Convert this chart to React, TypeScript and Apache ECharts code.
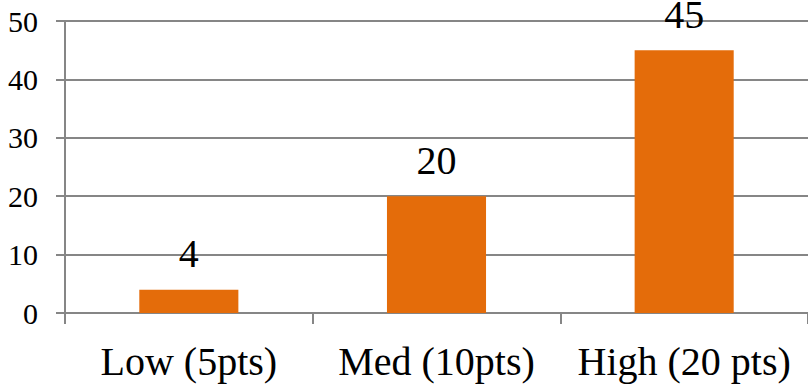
import React, { useEffect, useRef } from "react";
import * as echarts from "echarts";

const categories = ["Low (5pts)", "Med (10pts)", "High (20 pts)"];
const values = [4, 20, 45];
const yTicks = { min: 0, max: 50, interval: 10 };

export default function App() {
  const ref = useRef<HTMLDivElement>(null);
  useEffect(() => {
    const chart = echarts.init(ref.current!, null, { renderer: "svg" });
    const font = "'Liberation Serif', 'DejaVu Serif', serif";
    chart.setOption({
      animation: false,
      grid: { left: 65, right: -4, top: 21, bottom: 77, containLabel: false },
      xAxis: {
        type: "category",
        data: categories,
        axisLine: { show: true, lineStyle: { color: "#868686", width: 2 } },
        axisTick: { show: true, length: 11, lineStyle: { color: "#868686", width: 2 }, alignWithLabel: false },
        axisLabel: { color: "#000", fontFamily: font, fontSize: 40, margin: 28, interval: 0, hideOverlap: false },
        splitLine: { show: false },
      },
      yAxis: {
        type: "value",
        min: yTicks.min,
        max: yTicks.max,
        interval: yTicks.interval,
        axisLine: { show: true, lineStyle: { color: "#868686", width: 2 } },
        axisTick: { show: true, length: 9, lineStyle: { color: "#868686", width: 2 } },
        axisLabel: { color: "#000", fontFamily: font, fontSize: 30, margin: 27 },
        splitLine: { show: true, lineStyle: { color: "#868686", width: 2 } },
      },
      series: [
        {
          type: "bar",
          data: values,
          barWidth: "40%",
          itemStyle: { color: "#E46C0A" },
          label: {
            show: true,
            position: "top",
            distance: 16,
            color: "#000",
            fontFamily: font,
            fontSize: 40,
          },
        },
      ],
    });
    return () => chart.dispose();
  }, []);
  return <div ref={ref} style={{ width: 808, height: 390, position: "absolute", left: 0, top: 0 }} />;
}
